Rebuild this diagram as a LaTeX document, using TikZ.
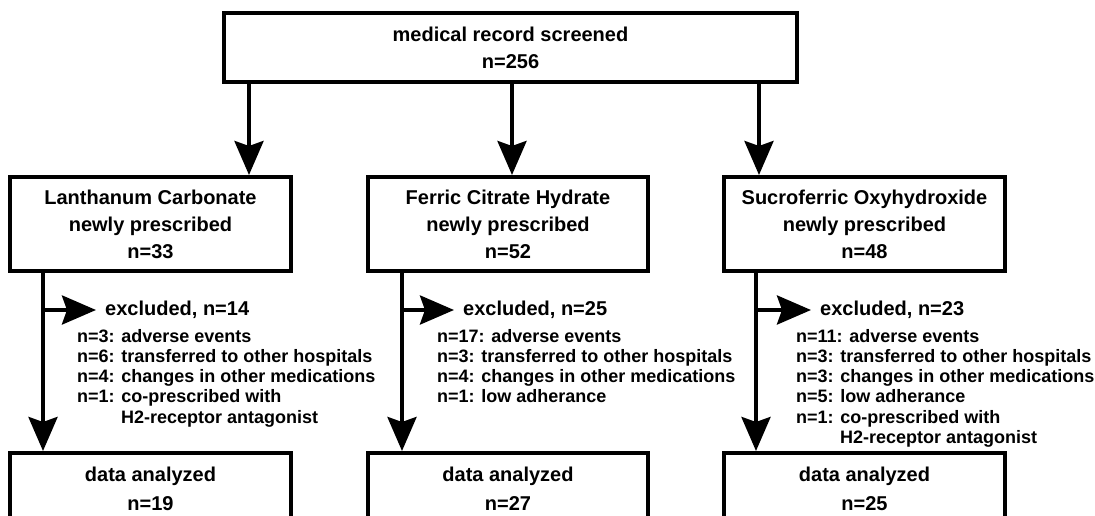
\documentclass[tikz,border=0pt]{standalone}
\usepackage{fontspec}
\setmainfont{Liberation Sans}
\usetikzlibrary{arrows.meta}
\begin{document}
\begin{tikzpicture}[x=1pt,y=-1pt,
  box/.style={draw,line width=4pt,align=center,inner sep=0pt,
    font=\bfseries\fontsize{20}{27}\selectfont},
  databox/.style={box,font=\bfseries\fontsize{20}{29}\selectfont,
    minimum width=281pt,minimum height=71pt},
  drugbox/.style={box,minimum width=281pt,minimum height=94pt},
  arr/.style={line width=4pt,-{Stealth[length=34pt,width=29pt,inset=5pt]}},
  excl/.style={anchor=west,inner sep=0pt,font=\bfseries\fontsize{20}{24}\selectfont},
  reasons/.style={anchor=north west,inner sep=0pt,align=left,
    font=\bfseries\fontsize{18}{20.2}\selectfont}]
\useasboundingbox (0,0) rectangle (1095,516);
\clip (0,0) rectangle (1095,516);

% boxes
\node[box,minimum width=573pt,minimum height=69pt] (top) at (510.5,47.5)
  {medical record screened\\n=256};
\node[drugbox] (lan) at (150.5,224) {Lanthanum Carbonate\\newly prescribed\\n=33};
\node[drugbox,minimum width=280pt] (fer) at (508,224) {Ferric Citrate Hydrate\\newly prescribed\\n=52};
\node[drugbox] (suc) at (864.5,224) {Sucroferric Oxyhydroxide\\newly prescribed\\n=48};

\node[databox] (lanD) at (150.5,488.5) {data analyzed\\n=19};
\node[databox,minimum width=280pt] (ferD) at (508,488.5) {data analyzed\\n=27};
\node[databox] (sucD) at (864.5,488.5) {data analyzed\\n=25};

% exclusion texts
\node[excl] (ex1) at (105,310) {excluded, n=14};
\node[excl] (ex2) at (463,310) {excluded, n=25};
\node[excl] (ex3) at (820,310) {excluded, n=23};

\node[reasons] (r1) at (77,329) {n=3: adverse events\\
  n=6: transferred to other hospitals\\
  n=4: changes in other medications\\
  n=1: co-prescribed with\\
  \hspace*{44pt}H2-receptor antagonist};
\node[reasons] (r2) at (437,329) {n=17: adverse events\\
  n=3: transferred to other hospitals\\
  n=4: changes in other medications\\
  n=1: low adherance};
\node[reasons] (r3) at (796,329) {n=11: adverse events\\
  n=3: transferred to other hospitals\\
  n=3: changes in other medications\\
  n=5: low adherance\\
  n=1: co-prescribed with\\
  \hspace*{44pt}H2-receptor antagonist};

% connector x positions
\coordinate (ta1) at (249,0);
\coordinate (ta2) at (512,0);
\coordinate (ta3) at (759,0);
\coordinate (vl1) at (43,0);
\coordinate (vl2) at (402,0);
\coordinate (vl3) at (756,0);

% connectors
\draw[arr] (top.south -| ta1) -- (lan.north -| ta1);
\draw[arr] (top.south -| ta2) -- (fer.north -| ta2);
\draw[arr] (top.south -| ta3) -- (suc.north -| ta3);

\draw[arr] (lan.south -| vl1) -- (lanD.north -| vl1);
\draw[arr] (fer.south -| vl2) -- (ferD.north -| vl2);
\draw[arr] (suc.south -| vl3) -- (sucD.north -| vl3);

\draw[arr] (ex1.west -| vl1) -- ([xshift=-9pt]ex1.west);
\draw[arr] (ex2.west -| vl2) -- ([xshift=-9pt]ex2.west);
\draw[arr] (ex3.west -| vl3) -- ([xshift=-9pt]ex3.west);
\end{tikzpicture}
\end{document}
